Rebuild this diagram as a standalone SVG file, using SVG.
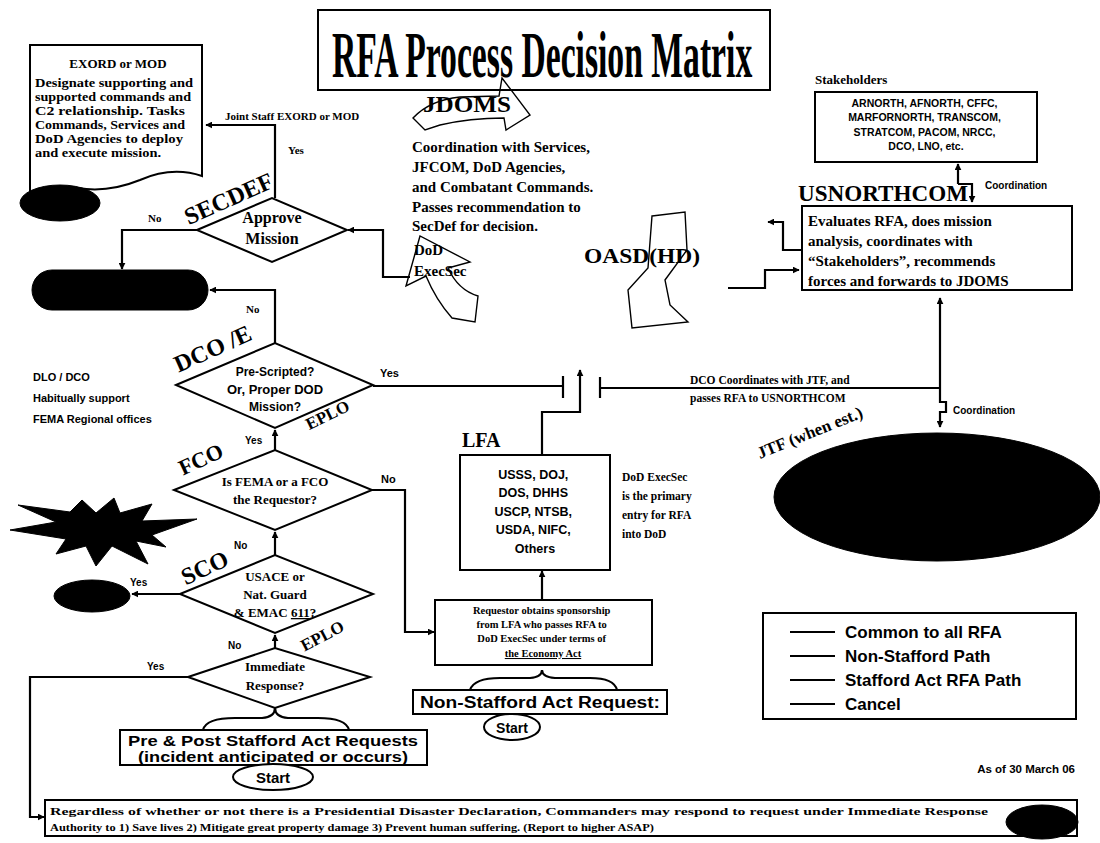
<svg xmlns="http://www.w3.org/2000/svg" width="1100" height="843" viewBox="0 0 1100 843">
<defs>
<marker id="ah" viewBox="0 0 10 10" refX="9" refY="5" markerWidth="7" markerHeight="7" orient="auto" markerUnits="userSpaceOnUse">
<path d="M0,0 L10,5 L0,10 z" fill="#000"/>
</marker>
<style>
.ln{fill:none;stroke:#000;stroke-width:2.2}
.lt{fill:none;stroke:#000;stroke-width:1.4}
.bx{fill:#fff;stroke:#000;stroke-width:2}
.blk{fill:#000;stroke:#000}
.sr{font-family:"Liberation Serif","DejaVu Serif",serif;font-weight:bold;fill:#000}
.ss{font-family:"Liberation Sans",Arial,sans-serif;font-weight:bold;fill:#000}
.c{text-anchor:middle}
</style>
</defs>
<rect width="1100" height="843" fill="#fff"/>

<g id="title">
<rect x="318" y="10" width="452" height="80" class="bx"/>
<text x="0" y="0" class="sr" font-size="66" transform="translate(332 77) scale(0.51 1)">RFA Process Decision Matrix</text>
</g>

<g id="connectors">
<polyline points="275,198 275,125 206,125" class="ln" marker-end="url(#ah)"/>
<polyline points="197,230 122,230 122,269" class="ln" marker-end="url(#ah)"/>
<polyline points="410,277 383,277 383,230 348,230" class="ln" marker-end="url(#ah)"/>
<polyline points="275,343 275,290 210,290" class="ln" marker-end="url(#ah)"/>
<line x1="373" y1="386" x2="563" y2="386" class="ln"/>
<line x1="563" y1="376" x2="563" y2="398" class="ln"/>
<line x1="600" y1="377" x2="600" y2="398" class="ln"/>
<line x1="600" y1="388" x2="941" y2="388" class="ln"/>
<polyline points="542,455 542,412 580,412 580,370" class="ln" marker-end="url(#ah)"/>
<polyline points="940,388 940,298" class="ln" marker-end="url(#ah)"/>
<polyline points="940,388 940,402 946,402 946,412 940,412 940,427" class="ln" marker-end="url(#ah)"/>
<polyline points="802,250 783,250 783,222 768,222" class="ln" marker-end="url(#ah)"/>
<polyline points="728,288 765,288 765,270 799,270" class="ln" marker-end="url(#ah)"/>
<polyline points="958,184 958,164" class="ln" marker-end="url(#ah)"/>
<polyline points="958,184 972,184 972,202" class="ln" marker-end="url(#ah)"/>
<line x1="275" y1="452" x2="275" y2="430" class="ln" marker-end="url(#ah)"/>
<line x1="275" y1="555" x2="275" y2="532" class="ln" marker-end="url(#ah)"/>
<line x1="275" y1="648" x2="275" y2="635" class="ln" marker-end="url(#ah)"/>
<polyline points="372,490 405,490 405,632 434,632" class="ln" marker-end="url(#ah)"/>
<line x1="180" y1="594" x2="132" y2="594" class="ln" marker-end="url(#ah)"/>
<polyline points="188,677 30,677 30,817 44,817" class="ln" marker-end="url(#ah)"/>
<line x1="542" y1="600" x2="542" y2="571" class="ln" marker-end="url(#ah)"/>
<path d="M203,730 Q206,718 235,718 L262,718 Q275,717 275,708 Q275,717 288,718 L318,718 Q346,718 349,730" class="ln"/>
<path d="M470,690 Q474,678 500,678 L530,678 Q542,677 542,670 Q542,677 555,678 L590,678 Q614,678 617,690" class="ln"/>
</g>

<g id="exord">
<path d="M30,45 L202,45 L202,176 Q172,166 140,180 Q108,193 78,188 Q52,184 30,192 Z" class="bx"/>
<text x="118" y="68" class="sr c" font-size="13">EXORD or MOD</text>
<text class="sr" font-size="12.5">
<tspan x="35" y="87" textLength="158" lengthAdjust="spacingAndGlyphs">Designate supporting and</tspan>
<tspan x="35" y="101" textLength="156" lengthAdjust="spacingAndGlyphs">supported commands and</tspan>
<tspan x="35" y="115" textLength="150" lengthAdjust="spacingAndGlyphs">C2 relationship.  Tasks</tspan>
<tspan x="35" y="129" textLength="150" lengthAdjust="spacingAndGlyphs">Commands, Services and</tspan>
<tspan x="35" y="143" textLength="148" lengthAdjust="spacingAndGlyphs">DoD Agencies to deploy</tspan>
<tspan x="35" y="157" textLength="126" lengthAdjust="spacingAndGlyphs">and execute mission.</tspan>
</text>
<ellipse cx="60" cy="203" rx="40" ry="18" class="blk"/>
</g>

<g id="joint-label">
<text x="225" y="120" class="sr" font-size="11">Joint Staff EXORD or MOD</text>
<text x="288" y="154" class="sr" font-size="11">Yes</text>
</g>

<g id="secdef">
<polygon points="197,230 272,198 347,230 272,262" class="bx"/>
<text x="272" y="223" class="sr c" font-size="16" font-weight="normal">Approve</text>
<text x="272" y="244" class="sr c" font-size="16" font-weight="normal">Mission</text>
<text x="232" y="206" class="sr c" font-size="24" font-weight="normal" transform="rotate(-24 232 206)">SECDEF</text>
<text x="148" y="222" class="sr" font-size="11">No</text>
</g>

<g id="cancel">
<rect x="32" y="270" width="176" height="40" rx="20" ry="20" class="blk"/>
</g>

<g id="dcoe">
<polygon points="176,385 275,343 373,385 275,428" class="bx"/>
<text x="275" y="376" class="ss c" font-size="12">Pre-Scripted?</text>
<text x="275" y="394" class="ss c" font-size="13" font-weight="normal">Or, Proper DOD</text>
<text x="275" y="411" class="ss c" font-size="12">Mission?</text>
<text x="216" y="356" class="sr c" font-size="24" font-weight="normal" transform="rotate(-24 216 356)">DCO /E</text>
<text x="330" y="420" class="sr c" font-size="17" font-weight="normal" transform="rotate(-26 330 420)">EPLO</text>
<text x="246" y="313" class="sr" font-size="11">No</text>
<text x="380" y="377" class="ss" font-size="11">Yes</text>
<text x="245" y="444" class="ss" font-size="10">Yes</text>
</g>

<g id="dlo-note">
<text class="ss" font-size="11" font-weight="normal">
<tspan x="33" y="381">DLO / DCO</tspan>
<tspan x="33" y="402">Habitually support</tspan>
<tspan x="33" y="423">FEMA Regional offices</tspan>
</text>
</g>

<g id="fco">
<polygon points="174,490 275,450 372,490 275,530" class="bx"/>
<text x="275" y="486" class="sr c" font-size="13">Is FEMA or a FCO</text>
<text x="275" y="504" class="sr c" font-size="13">the Requestor?</text>
<text x="204" y="466" class="sr c" font-size="22" font-weight="normal" transform="rotate(-25 204 466)">FCO</text>
<text x="381" y="483" class="ss" font-size="11">No</text>
<text x="234" y="549" class="ss" font-size="10">No</text>
</g>

<g id="explosion">
<path d="M10,530 L56,522 L18,505 L70,512 L82,500 L96,513 L114,498 L120,513 L152,504 L142,521 L197,519 L152,535 L166,547 L136,541 L148,564 L112,546 L96,566 L86,546 L56,554 L66,539 Z" class="blk"/>
</g>

<g id="sco">
<polygon points="180,594 275,555 373,594 275,633" class="bx"/>
<text x="275" y="581" class="sr c" font-size="13">USACE or</text>
<text x="275" y="599" class="sr c" font-size="13">Nat. Guard</text>
<text x="275" y="617" class="sr c" font-size="13">&amp; EMAC <tspan text-decoration="underline">611</tspan>?</text>
<text x="208" y="575" class="sr c" font-size="24" font-weight="normal" transform="rotate(-25 208 575)">SCO</text>
<text x="325" y="641" class="sr c" font-size="17" font-weight="normal" transform="rotate(-28 325 641)">EPLO</text>
<text x="130" y="586" class="ss" font-size="10">Yes</text>
<text x="228" y="649" class="ss" font-size="10">No</text>
<ellipse cx="92" cy="596" rx="38" ry="16" class="blk"/>
</g>

<g id="immediate">
<polygon points="188,677 275,648 370,677 275,708" class="bx"/>
<text x="275" y="671" class="sr c" font-size="13">Immediate</text>
<text x="275" y="690" class="sr c" font-size="13">Response?</text>
<text x="147" y="670" class="ss" font-size="10">Yes</text>
</g>

<g id="stafford-start">
<rect x="120" y="730" width="307" height="35" class="bx"/>
<text x="273" y="746" class="ss c" font-size="15" textLength="290" lengthAdjust="spacingAndGlyphs">Pre &amp; Post Stafford Act Requests</text>
<text x="273" y="762" class="ss c" font-size="15" textLength="270" lengthAdjust="spacingAndGlyphs">(incident anticipated or occurs)</text>
<ellipse cx="273" cy="777" rx="40" ry="13" class="bx"/>
<text x="273" y="783" class="ss c" font-size="15">Start</text>
</g>

<g id="jdoms">
<path d="M413,118 Q430,100 460,97 L499,96 L502,78 L530,115 L506,130 L504,118 Q470,118 440,125 L425,130 Z" class="lt" fill="#fff"/>
<text x="467" y="112" class="sr c" font-size="23" font-weight="normal" textLength="88" lengthAdjust="spacingAndGlyphs">JDOMS</text>
<text class="sr" font-size="15">
<tspan x="412" y="152">Coordination with Services,</tspan>
<tspan x="412" y="172">JFCOM, DoD Agencies,</tspan>
<tspan x="412" y="192">and Combatant  Commands.</tspan>
<tspan x="412" y="212">Passes recommendation to</tspan>
<tspan x="412" y="231">SecDef for decision.</tspan>
</text>
</g>

<g id="dod-execsec">
<path d="M420,236 L406,286 L426,276 Q436,300 452,318 L475,322 L478,296 Q458,290 448,268 L470,262 Z" class="lt" fill="none"/>
<text class="sr" font-size="15" font-weight="normal">
<tspan x="414" y="255">DoD</tspan>
<tspan x="414" y="276">ExecSec</tspan>
</text>
</g>

<g id="oasd">
<path d="M652,216 L685,212 L687,250 L665,280 L670,305 L688,322 L632,328 L628,290 L648,268 Z" class="lt" fill="none"/>
<text x="584" y="263" class="sr" font-size="21" font-weight="normal" textLength="116" lengthAdjust="spacingAndGlyphs">OASD(HD)</text>
</g>

<g id="usnorthcom">
<text x="798" y="201" class="sr" font-size="23" font-weight="normal" textLength="170" lengthAdjust="spacingAndGlyphs">USNORTHCOM</text>
<rect x="802" y="206" width="270" height="84" class="bx"/>
<text class="sr" font-size="15">
<tspan x="808" y="226">Evaluates RFA, does mission</tspan>
<tspan x="808" y="246">analysis, coordinates with</tspan>
<tspan x="808" y="266">“Stakeholders”, recommends</tspan>
<tspan x="808" y="286">forces and forwards to JDOMS</tspan>
</text>
<text x="985" y="189" class="ss" font-size="10" font-weight="normal">Coordination</text>
</g>

<g id="stakeholders">
<text x="815" y="84" class="sr" font-size="13" font-weight="normal">Stakeholders</text>
<rect x="815" y="92" width="222" height="70" class="bx"/>
<text class="ss c" font-size="10.5">
<tspan x="926" y="107">ARNORTH, AFNORTH, CFFC,</tspan>
<tspan x="926" y="121">MARFORNORTH, TRANSCOM,</tspan>
<tspan x="926" y="136">STRATCOM, PACOM, NRCC,</tspan>
<tspan x="926" y="150">DCO, LNO, etc.</tspan>
</text>
</g>

<g id="dco-text">
<text x="690" y="384" class="sr" font-size="11.5">DCO  Coordinates with JTF, and</text>
<text x="690" y="402" class="sr" font-size="11.5">passes RFA to USNORTHCOM</text>
<text x="953" y="414" class="ss" font-size="10" font-weight="normal">Coordination</text>
</g>

<g id="jtf">
<ellipse cx="937" cy="497" rx="163" ry="64" class="blk"/>
<text x="812" y="438" class="sr c" font-size="17" font-weight="normal" transform="rotate(-22 812 438)">JTF (when est.)</text>
</g>

<g id="lfa">
<text x="462" y="447" class="sr" font-size="20" font-weight="normal">LFA</text>
<rect x="460" y="455" width="150" height="115" class="bx"/>
<text class="ss c" font-size="12.5" font-weight="normal">
<tspan x="535" y="479">USSS, DOJ,</tspan>
<tspan x="535" y="497">DOS, DHHS</tspan>
<tspan x="535" y="516">USCP, NTSB,</tspan>
<tspan x="535" y="534">USDA, NIFC,</tspan>
<tspan x="535" y="553">Others</tspan>
</text>
<text class="sr" font-size="11.5">
<tspan x="622" y="481">DoD ExecSec</tspan>
<tspan x="622" y="500">is the primary</tspan>
<tspan x="622" y="519">entry for RFA</tspan>
<tspan x="622" y="538">into DoD</tspan>
</text>
</g>

<g id="requestor">
<rect x="435" y="600" width="217" height="65" class="bx"/>
<text class="sr c" font-size="10.5">
<tspan x="543" y="614">Requestor obtains sponsorship</tspan>
<tspan x="543" y="628">from LFA who passes RFA to</tspan>
<tspan x="543" y="642">DoD ExecSec under terms of</tspan>
<tspan x="543" y="657" text-decoration="underline">the Economy Act</tspan>
</text>
</g>

<g id="nonstafford-start">
<rect x="413" y="690" width="254" height="24" class="bx"/>
<text x="540" y="708" class="ss c" font-size="16" font-weight="normal" textLength="240" lengthAdjust="spacingAndGlyphs">Non-Stafford Act Request:</text>
<ellipse cx="512" cy="727" rx="28" ry="13" class="bx"/>
<text x="512" y="733" class="ss c" font-size="14">Start</text>
</g>

<g id="legend">
<rect x="763" y="613" width="313" height="106" class="bx" stroke-width="1.4"/>
<line x1="790" y1="632" x2="835" y2="632" class="ln"/>
<line x1="790" y1="656" x2="835" y2="656" class="ln"/>
<line x1="790" y1="680" x2="835" y2="680" class="ln"/>
<line x1="790" y1="704" x2="835" y2="704" class="ln"/>
<text class="ss" font-size="17" font-weight="normal">
<tspan x="845" y="638">Common to all RFA</tspan>
<tspan x="845" y="662">Non-Stafford Path</tspan>
<tspan x="845" y="686">Stafford Act RFA Path</tspan>
<tspan x="845" y="710">Cancel</tspan>
</text>
</g>

<g id="date">
<text x="1075" y="773" class="ss" font-size="11.5" text-anchor="end">As of 30 March 06</text>
</g>

<g id="immediate-note">
<rect x="45" y="800" width="1032" height="36" class="bx" stroke-width="1.6"/>
<text x="50" y="815" class="sr" font-size="11" textLength="938" lengthAdjust="spacingAndGlyphs">Regardless of whether or not there is a Presidential Disaster Declaration, Commanders may respond to request under Immediate Response</text>
<text x="50" y="831" class="sr" font-size="11" textLength="604" lengthAdjust="spacingAndGlyphs">Authority to 1) Save lives 2) Mitigate great property damage 3) Prevent human suffering. (Report to higher ASAP)</text>
<ellipse cx="1042" cy="822" rx="36" ry="17" class="blk"/>
</g>
</svg>
